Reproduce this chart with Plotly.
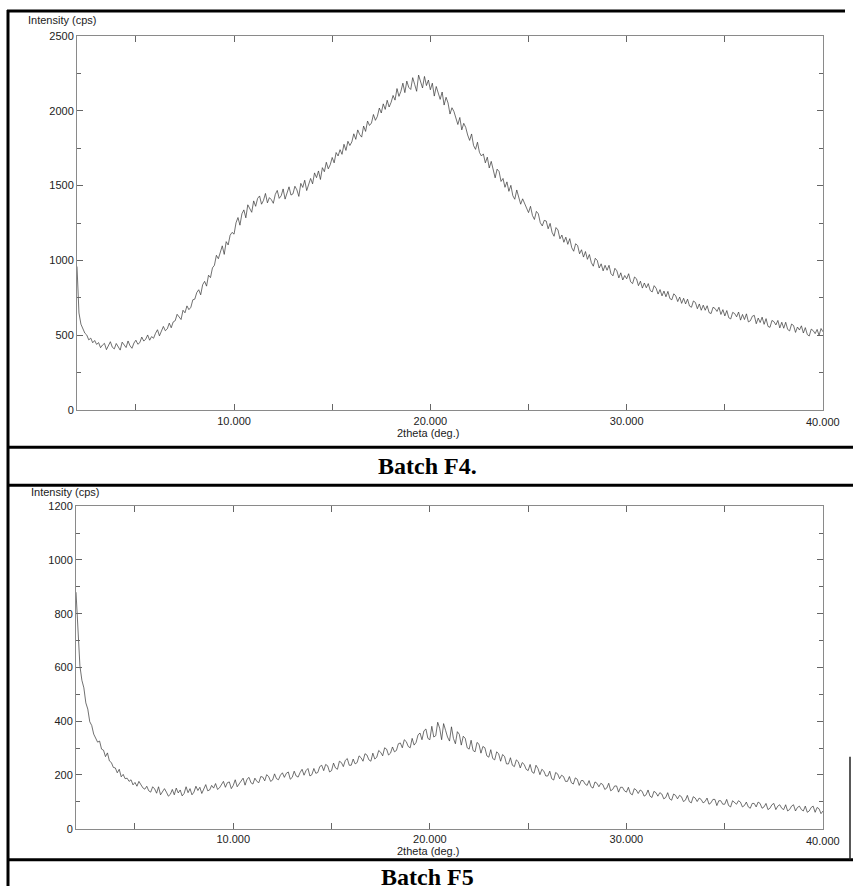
import numpy as np
import plotly.graph_objects as go

# ---------------- data ----------------
two_theta_start = 2.0
two_theta_step = 0.1

# Batch F4 intensity (cps), 2.0 .. 40.0 deg, every 0.1 deg
f4_intensity = [
    960, 650, 575, 548, 515, 502, 470, 482, 451, 466,
    440, 452, 418, 436, 447, 405, 430, 458, 421, 410,
    446, 428, 402, 455, 437, 419, 463, 431, 414, 449,
    468, 441, 452, 489, 462, 475, 503, 468, 492, 481,
    514, 538, 497, 526, 560, 531, 544, 582, 551, 590,
    598, 641, 622, 606, 668, 651, 697, 672, 688, 738,
    742, 786, 805, 771, 838, 861, 829, 902, 886, 951,
    968, 1035, 1012, 1064, 1098, 1041, 1126, 1104, 1169, 1188,
    1176, 1252, 1287, 1236, 1312, 1338, 1285, 1372, 1351, 1322,
    1398, 1362, 1415, 1431, 1376, 1402, 1448, 1385, 1420, 1406,
    1382, 1441, 1468, 1415, 1432, 1478, 1410, 1456, 1492, 1437,
    1445, 1496, 1472, 1428, 1515, 1488, 1536, 1467, 1502, 1548,
    1512, 1585, 1553, 1598, 1541, 1620, 1593, 1656, 1612, 1640,
    1688, 1652, 1721, 1698, 1740, 1709, 1776, 1735, 1796, 1768,
    1792, 1846, 1809, 1872, 1841, 1824, 1898, 1862, 1931, 1902,
    1918, 1975, 1936, 1962, 2018, 1985, 2046, 2009, 2070, 2025,
    2056, 2102, 2071, 2148, 2096, 2130, 2184, 2121, 2198, 2156,
    2142, 2221, 2176, 2130, 2238, 2190, 2152, 2229, 2168, 2205,
    2140, 2184, 2098, 2162, 2118, 2076, 2125, 2038, 2090, 2052,
    1978, 2020, 1995, 1942, 1908, 1955, 1872, 1916, 1889, 1838,
    1802, 1845, 1768, 1742, 1790, 1722, 1698, 1712, 1652, 1690,
    1618, 1662, 1596, 1552, 1610, 1594, 1528, 1548, 1489, 1525,
    1462, 1502, 1433, 1409, 1471, 1431, 1376, 1412, 1384, 1350,
    1320, 1362, 1301, 1274, 1328, 1312, 1252, 1231, 1268, 1264,
    1212, 1248, 1188, 1162, 1220, 1204, 1145, 1170, 1122, 1156,
    1108, 1146, 1086, 1062, 1112, 1100, 1045, 1072, 1023, 1060,
    1008, 1040, 986, 962, 1015, 1001, 950, 978, 931, 968,
    935, 968, 912, 898, 948, 931, 884, 918, 870, 900,
    878, 912, 858, 846, 890, 878, 832, 862, 816, 850,
    818, 846, 800, 790, 832, 815, 776, 806, 764, 796,
    758, 794, 746, 738, 778, 764, 726, 756, 714, 748,
    710, 742, 696, 688, 730, 720, 678, 710, 668, 702,
    668, 698, 652, 646, 688, 680, 660, 688, 640, 672,
    630, 666, 618, 610, 654, 646, 624, 656, 602, 640,
    606, 644, 590, 598, 628, 634, 578, 616, 586, 622,
    574, 612, 560, 554, 600, 592, 570, 600, 550, 588,
    548, 588, 540, 530, 576, 566, 520, 556, 536, 564,
    516, 552, 506, 496, 542, 532, 512, 540, 500, 546,
    524,
]

# Batch F5 intensity (cps), 2.0 .. 40.0 deg, every 0.1 deg
f5_intensity = [
    880, 715, 605, 552, 524, 468, 445, 398, 384, 352,
    338, 322, 326, 296, 292, 268, 282, 252, 246, 228,
    226, 208, 221, 193, 202, 186, 188, 176, 182, 163,
    172, 158, 176, 163, 152, 147, 158, 141, 136, 156,
    148, 132, 156, 126, 138, 149, 136, 121, 128, 146,
    126, 151, 133, 144, 122, 131, 156, 134, 149, 126,
    136, 158, 142, 154, 131, 146, 164, 141, 144, 161,
    151, 168, 146, 152, 163, 176, 154, 171, 174, 149,
    161, 182, 156, 166, 174, 188, 162, 184, 191, 171,
    166, 188, 176, 171, 194, 192, 178, 201, 194, 176,
    181, 204, 186, 182, 199, 208, 191, 206, 211, 184,
    191, 214, 196, 192, 209, 221, 199, 216, 224, 196,
    201, 224, 206, 209, 231, 236, 216, 239, 234, 211,
    216, 244, 226, 221, 251, 246, 231, 254, 261, 236,
    236, 259, 241, 246, 271, 264, 251, 279, 274, 256,
    251, 281, 259, 266, 291, 284, 271, 301, 296, 274,
    281, 304, 286, 291, 316, 319, 301, 331, 324, 306,
    301, 336, 311, 321, 349, 356, 331, 364, 371, 336,
    331, 381, 341, 346, 396, 374, 331, 391, 366, 341,
    326, 379, 336, 316, 361, 351, 311, 344, 336, 301,
    296, 329, 291, 286, 321, 314, 281, 306, 301, 271,
    266, 294, 261, 256, 286, 279, 251, 276, 269, 241,
    241, 264, 236, 231, 256, 249, 226, 246, 239, 221,
    216, 239, 211, 206, 236, 224, 201, 221, 214, 196,
    196, 214, 186, 181, 209, 204, 186, 199, 194, 176,
    176, 194, 171, 166, 189, 184, 161, 179, 179, 166,
    161, 179, 156, 151, 174, 169, 156, 169, 164, 146,
    151, 169, 141, 146, 159, 159, 136, 154, 154, 141,
    136, 154, 131, 126, 149, 144, 131, 144, 139, 121,
    126, 144, 121, 116, 139, 134, 121, 134, 129, 111,
    116, 134, 111, 106, 129, 124, 111, 124, 119, 101,
    106, 124, 101, 96, 119, 114, 101, 114, 109, 96,
    101, 114, 91, 96, 109, 109, 86, 104, 104, 91,
    91, 109, 86, 81, 104, 99, 91, 104, 99, 81,
    86, 99, 81, 76, 94, 94, 81, 99, 94, 76,
    81, 94, 71, 76, 89, 94, 71, 84, 89, 76,
    71, 89, 66, 71, 84, 89, 66, 79, 84, 71,
    66, 84, 61, 66, 79, 84, 61, 79, 74, 56,
    66,
]

x_major_ticks = [10, 20, 30]
x_last_tick = 40
x_tick_format = ".3f"
x_label = "2theta (deg.)"
y_label = "Intensity (cps)"
captions = ["Batch F4.", "Batch F5"]

# ---------------- layout helpers ----------------
W, H = 853, 892
SY, OY = 0.988, 5.1


def px(x):
    return max(0.0, min(1.0, x / W))


def py(y):
    return max(0.0, min(1.0, 1 - ((y - OY) / SY) / H))


two_theta_f4 = np.round(two_theta_start + two_theta_step * np.arange(len(f4_intensity)), 2)
two_theta_f5 = np.round(two_theta_start + two_theta_step * np.arange(len(f5_intensity)), 2)

fig = go.Figure()
trace_style = dict(mode="lines", line=dict(color="#333333", width=0.7),
                   showlegend=False, hoverinfo="skip")
fig.add_trace(go.Scatter(x=two_theta_f4, y=f4_intensity, xaxis="x", yaxis="y", **trace_style))
fig.add_trace(go.Scatter(x=two_theta_f5, y=f5_intensity, xaxis="x2", yaxis="y2", **trace_style))

tick_font = dict(family="Liberation Sans, Arial, sans-serif", size=11, color="#222")
axis_common = dict(showline=True, linecolor="#8a8a8a", linewidth=1, mirror="ticks",
                   ticks="inside", ticklen=6, tickcolor="#666", tickwidth=1,
                   showgrid=False, zeroline=False, tickfont=tick_font)

xaxis_common = dict(axis_common, range=[2, 40], tickmode="array",
                    tickvals=x_major_ticks, tickformat=x_tick_format,
                    minor=dict(tick0=0, dtick=5, ticks="inside", ticklen=6,
                               tickcolor="#666", showgrid=False))

fig.update_layout(
    width=W, height=H,
    margin=dict(l=0, r=0, t=0, b=0, pad=0),
    paper_bgcolor="white", plot_bgcolor="white", showlegend=False,
    xaxis=dict(xaxis_common, domain=[px(77), px(823)], anchor="y"),
    yaxis=dict(axis_common, domain=[py(410), py(35)], anchor="x",
               range=[0, 2500], tick0=0, dtick=500,
               minor=dict(tick0=0, dtick=250, ticks="inside", ticklen=4,
                          tickcolor="#666", showgrid=False)),
    xaxis2=dict(xaxis_common, domain=[px(76), px(823)], anchor="y2"),
    yaxis2=dict(axis_common, domain=[py(829), py(506)], anchor="x2",
                range=[0, 1200], tick0=0, dtick=200,
                minor=dict(tick0=0, dtick=100, ticks="inside", ticklen=4,
                           tickcolor="#666", showgrid=False)),
)

label_font = dict(family="Liberation Sans, Arial, sans-serif", size=11, color="#222")
cap_font = dict(family="Liberation Serif, Times New Roman, serif", size=24, color="black")
last_label = format(x_last_tick, x_tick_format)
annotations = [
    dict(text=y_label, x=px(26), y=py(19), xanchor="left", yanchor="middle", font=label_font),
    # label of the last x tick, placed on the axis data coordinate
    dict(text=last_label, xref="x", x=x_last_tick, y=py(422), xanchor="center",
         yanchor="middle", font=label_font),
    dict(text=x_label, x=px(428), y=py(433), xanchor="center", yanchor="middle", font=label_font),
    dict(text=captions[0], x=px(427), y=py(466), xanchor="center", yanchor="middle",
         font=dict(cap_font, weight="bold")),
    dict(text=y_label, x=px(29), y=py(492), xanchor="left", yanchor="middle", font=label_font),
    dict(text=last_label, xref="x2", x=x_last_tick, y=py(841), xanchor="center",
         yanchor="middle", font=label_font),
    dict(text=x_label, x=px(428), y=py(851), xanchor="center", yanchor="middle", font=label_font),
    dict(text=captions[1], x=px(427), y=py(877), xanchor="center", yanchor="middle",
         font=dict(cap_font, weight="bold")),
]
anns = []
for a in annotations:
    a = dict(a)
    a.setdefault("xref", "paper")
    a.setdefault("yref", "paper")
    a["showarrow"] = False
    anns.append(a)
fig.update_layout(annotations=anns)

# table borders
border = dict(color="black", width=3)
shapes = [
    dict(type="line", x0=px(8), x1=px(8), y0=py(9), y1=py(892), line=border),
    dict(type="line", x0=px(7), x1=px(845), y0=py(10), y1=py(10), line=border),
    dict(type="line", x0=px(7), x1=px(853), y0=py(447), y1=py(447), line=border),
    dict(type="line", x0=px(7), x1=px(853), y0=py(485), y1=py(485), line=border),
    dict(type="line", x0=px(7), x1=px(853), y0=py(860), y1=py(860), line=border),
    dict(type="line", x0=px(850), x1=px(850), y0=py(757), y1=py(860),
         line=dict(color="#222", width=1.5)),
]
fig.update_layout(shapes=[dict(s, xref="paper", yref="paper") for s in shapes])

fig.write_html(
    "out.html",
    config={"displayModeBar": False},
    post_script=("document.body.style.margin='0';"
                 "document.body.style.overflow='hidden';"),
)
